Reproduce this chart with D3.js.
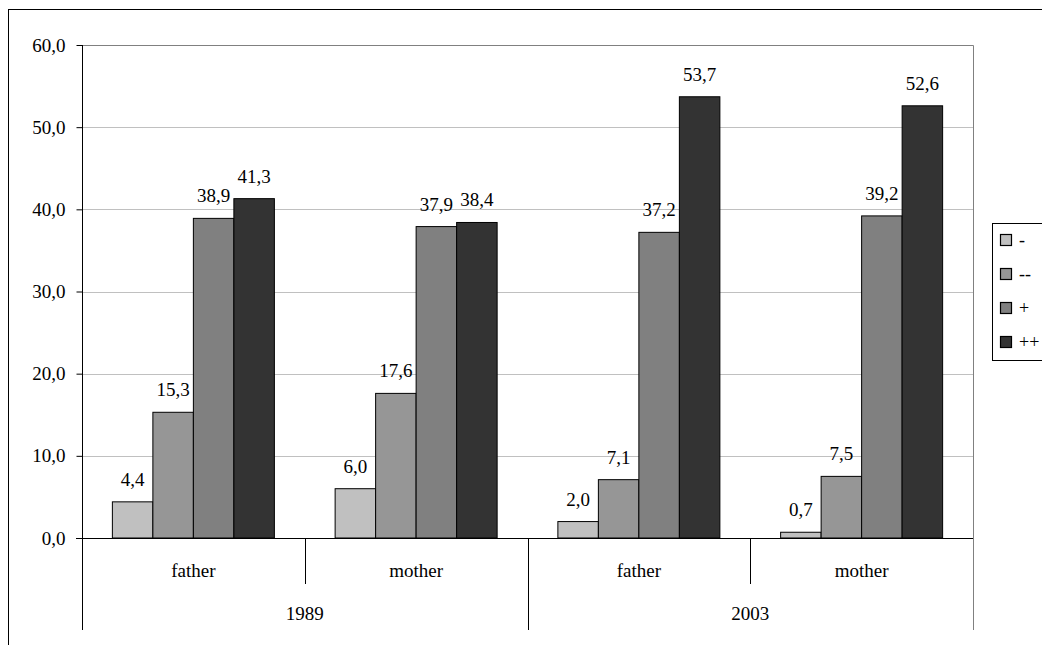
<!DOCTYPE html>
<html>
<head>
<meta charset="utf-8">
<script src="https://cdn.jsdelivr.net/npm/d3@7"></script>
<style>
  html, body { margin: 0; padding: 0; background: #fff; }
  svg { display: block; }
  svg text { font-family: "Liberation Serif", "Times New Roman", serif !important; fill: #000; }
</style>
</head>
<body>
<svg id="chart" width="1042" height="645" font-family="Liberation Serif"></svg>
<script>
// ---- data ----
const years = ["1989", "2003"];
const parents = ["father", "mother"];
const categories = ["1989|father", "1989|mother", "2003|father", "2003|mother"];
const seriesNames = ["-", "--", "+", "++"];
const seriesColors = ["#c0c0c0", "#969696", "#808080", "#333333"];
const valuesMinus     = [4.4, 6.0, 2.0, 0.7];
const valuesMinus2    = [15.3, 17.6, 7.1, 7.5];
const valuesPlus      = [38.9, 37.9, 37.2, 39.2];
const valuesPlus2     = [41.3, 38.4, 53.7, 52.6];
const yTicks = [0, 10, 20, 30, 40, 50, 60];

const seriesValues = [valuesMinus, valuesMinus2, valuesPlus, valuesPlus2];

const svg = d3.select("#chart");
const fmt = v => v.toFixed(1).replace(".", ",");
const FONT = '"Liberation Serif", "Times New Roman", serif';

// outer chart border
svg.append("rect").attr("x", 8.5).attr("y", 9.5).attr("width", 1100).attr("height", 700)
  .attr("fill", "none").attr("stroke", "#000").attr("stroke-width", 1);

const L = 82, R = 973, T = 45, B = 538;

const y = d3.scaleLinear().domain([0, 60]).range([B, T]);
const x0 = d3.scaleBand().domain(categories).range([L, R]).paddingInner(0).paddingOuter(0);
// gap width 150%: 0.75 bar width of padding on each side of each category
const x1 = d3.scaleBand().domain(seriesNames).range([0, x0.bandwidth()])
  .paddingInner(0).paddingOuter(0.75);

// plot area border (gray top/right)
svg.append("path")
  .attr("d", `M${L},${T + 0.5}H${R + 0.5}V${B}`)
  .attr("fill", "none").attr("stroke", "#808080").attr("stroke-width", 1);

// gridlines
svg.append("g").selectAll("line").data(yTicks.filter(t => t > 0 && t < 60)).join("line")
  .attr("x1", L).attr("x2", R)
  .attr("y1", d => Math.round(y(d)) + 0.5).attr("y2", d => Math.round(y(d)) + 0.5)
  .attr("stroke", "#c0c0c0").attr("stroke-width", 1);

// y axis
const yAxis = d3.axisLeft(y).tickValues(yTicks).tickSize(6).tickPadding(11).tickFormat(fmt);
const gy = svg.append("g").attr("transform", `translate(${L + 0.5},0)`).call(yAxis)
  .attr("font-family", FONT).attr("font-size", 19);
gy.select(".domain").attr("stroke", "#000").attr("d", `M0,${T}V${B}`);
gy.selectAll(".tick line").attr("stroke", "#000");
gy.selectAll(".tick text").attr("font-family", FONT).attr("font-size", 19).attr("fill", "#000");

// bars
const groups = svg.append("g").selectAll("g").data(categories).join("g")
  .attr("transform", d => `translate(${x0(d)},0)`);

groups.each(function(cat, ci) {
  const g = d3.select(this);
  seriesNames.forEach((s, si) => {
    const v = seriesValues[si][ci];
    const bx = x1(s);
    g.append("rect")
      .attr("x", bx).attr("width", x1.bandwidth())
      .attr("y", y(v)).attr("height", B - y(v))
      .attr("fill", seriesColors[si]).attr("stroke", "#000").attr("stroke-width", 1);
    g.append("text")
      .attr("x", bx + x1.bandwidth() / 2).attr("y", y(v) - 16)
      .attr("text-anchor", "middle").attr("font-family", FONT).attr("font-size", 19)
      .text(fmt(v));
  });
});

// x axis line
svg.append("line").attr("x1", L - 6).attr("x2", R).attr("y1", B + 0.5).attr("y2", B + 0.5)
  .attr("stroke", "#000").attr("stroke-width", 1.2);

// category axis separators
const yearScale = d3.scaleBand().domain(years).range([L, R]);
const seps = [];
years.forEach(yr => {
  seps.push({ x: yearScale(yr), long: true });
  seps.push({ x: yearScale(yr) + yearScale.bandwidth() / 2, long: false });
});
seps.push({ x: R, long: true });
svg.append("g").selectAll("line").data(seps).join("line")
  .attr("x1", d => Math.round(d.x) + 0.5).attr("x2", d => Math.round(d.x) + 0.5)
  .attr("y1", B).attr("y2", d => d.long ? 630 : 584)
  .attr("stroke", d => d.x === R ? "#808080" : "#000").attr("stroke-width", 1);

// parent labels
svg.append("g").selectAll("text").data(categories).join("text")
  .attr("x", d => x0(d) + x0.bandwidth() / 2).attr("y", 577)
  .attr("text-anchor", "middle").attr("font-family", FONT).attr("font-size", 19)
  .text(d => d.split("|")[1]);

// year labels
svg.append("g").selectAll("text").data(years).join("text")
  .attr("x", d => yearScale(d) + yearScale.bandwidth() / 2).attr("y", 620)
  .attr("text-anchor", "middle").attr("font-family", FONT).attr("font-size", 19)
  .text(d => d);

// legend
const lg = svg.append("g");
lg.append("rect").attr("x", 992.5).attr("y", 223.5).attr("width", 100).attr("height", 137)
  .attr("fill", "#fff").attr("stroke", "#000").attr("stroke-width", 1);
const ly = d3.scalePoint().domain(seriesNames).range([240, 342]);
seriesNames.forEach((s, i) => {
  lg.append("rect").attr("x", 1000.5).attr("y", ly(s) - 5.5).attr("width", 11).attr("height", 11)
    .attr("fill", seriesColors[i]).attr("stroke", "#000").attr("stroke-width", 1.2);
  lg.append("text").attr("x", 1019).attr("y", ly(s) + 6)
    .attr("font-family", FONT).attr("font-size", 18).text(s);
});
</script>
</body>
</html>
